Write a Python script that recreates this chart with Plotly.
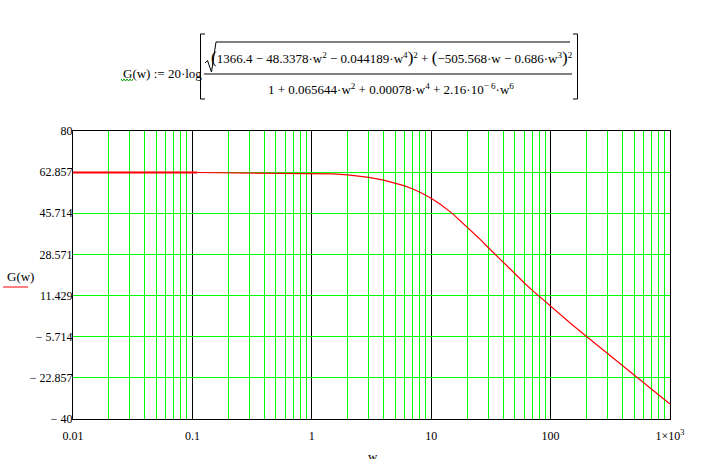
import plotly.graph_objects as go

# ---- data ----
w_vals = [0.01, 0.11, 1, 1.2, 1.5, 2, 2.5, 3, 4, 5, 6, 7, 8, 10, 12, 15, 20, 25, 30,
          40, 50, 60, 70, 100, 150, 200, 300, 500, 700, 1000]
g_vals = [62.71, 62.71, 62.44, 62.32, 62.12, 61.70, 61.22, 60.70, 59.56, 58.36, 57.12,
          55.85, 54.56, 51.96, 49.39, 45.68, 40.14, 35.44, 31.47, 25.22, 20.50, 16.77,
          13.71, 6.90, -0.51, -5.64, -12.79, -21.71, -27.57, -33.78]

y_tick_vals = [80, 62.857, 45.714, 28.571, 11.429, -5.714, -22.857, -40]
y_tick_text = ["80", "62.857", "45.714", "28.571", "11.429",
               "\u2212 5.714", "\u2212 22.857", "\u2212 40"]
x_tick_vals = [0.01, 0.1, 1, 10, 100, 1000]
x_tick_text = ["0.01", "0.1", "1", "10", "100", "1\u00d710<sup>3</sup>"]
x_minor_vals = [k * 10.0 ** e for e in range(-2, 3) for k in range(2, 10)]

W, H = 703, 459
L, R, T, B = 73, 670, 131, 419


def PX(x):
    return (x - L) / (R - L)


def PY(y):
    return (B - y) / (B - T)


SERIF = "Liberation Serif"

fig = go.Figure()
fig.add_trace(go.Scatter(x=w_vals[:2], y=g_vals[:2], mode="lines",
                         line=dict(color="#ff0000", width=2), hoverinfo="skip"))
fig.add_trace(go.Scatter(x=w_vals[1:], y=g_vals[1:], mode="lines",
                         line=dict(color="#ff0000", width=1.2), hoverinfo="skip"))

fig.update_layout(
    width=W, height=H,
    margin=dict(l=L, r=W - R, t=T, b=H - B, pad=0),
    paper_bgcolor="white", plot_bgcolor="white",
    showlegend=False,
    font=dict(family=SERIF, size=12, color="black"),
    xaxis=dict(type="log", range=[-2, 3], tickvals=x_tick_vals, ticktext=x_tick_text,
               showgrid=True, gridcolor="black", gridwidth=1,
               minor=dict(tickvals=x_minor_vals, showgrid=True, gridcolor="#00ff00",
                          gridwidth=1, ticks=""),
               showline=True, linecolor="black", linewidth=1, mirror=True,
               ticks="", ticklen=0, ticklabelstandoff=6, zeroline=False,
               tickfont=dict(size=12, family=SERIF)),
    yaxis=dict(range=[-40, 80], tickvals=y_tick_vals, ticktext=y_tick_text,
               showgrid=True, gridcolor="#00ff00", gridwidth=1,
               showline=True, linecolor="black", linewidth=1, mirror=True,
               ticks="", ticklen=0, ticklabelstandoff=-3, zeroline=False,
               tickfont=dict(size=12, family=SERIF)),
)

ann = []
FS = 13
# formula pieces
ann.append(dict(text="G(w) := 20\u00b7log", x=PX(121), y=PY(74), xanchor="left",
                yanchor="middle", showarrow=False, font=dict(size=FS)))
big = '<span style="font-size:17px">%s</span>'
num = (big % "(" + "1366.4 \u2212 48.3378\u00b7w<sup>2</sup> \u2212 0.044189\u00b7w<sup>4</sup>"
       + big % ")" + "<sup>2</sup> + " + big % "(" + "\u2212505.568\u00b7w \u2212 0.686\u00b7w<sup>3</sup>"
       + big % ")" + "<sup>2</sup>")
ann.append(dict(text=num, x=PX(392), y=PY(58), xanchor="center", yanchor="middle",
                showarrow=False, font=dict(size=FS)))
den = ("1 + 0.065644\u00b7w<sup>2</sup> + 0.00078\u00b7w<sup>4</sup> + "
       "2.16\u00b710<sup>\u2212 6</sup>\u00b7w<sup>6</sup>")
ann.append(dict(text=den, x=PX(391), y=PY(89), xanchor="center", yanchor="middle",
                showarrow=False, font=dict(size=FS)))
# axis labels
ann.append(dict(text="G(w)", x=PX(5), y=PY(276), xanchor="left", yanchor="middle",
                showarrow=False, font=dict(size=13)))
ann.append(dict(text="w", x=PX(373), y=PY(447), xanchor="center", yanchor="top",
                showarrow=False, font=dict(size=13)))
for a in ann:
    a["xref"] = "paper"
    a["yref"] = "paper"
fig.update_layout(annotations=ann)


def path(pts):
    return "M " + " L ".join("%f,%f" % (PX(x), PY(y)) for x, y in pts)


shapes = [
    # left bracket
    dict(path=path([(205, 34), (200.5, 34), (200.5, 99), (205, 99)]), line=dict(color="black", width=1)),
    # right bracket
    dict(path=path([(573, 34), (577.5, 34), (577.5, 99), (573, 99)]), line=dict(color="black", width=1)),
    # square root sign
    dict(path=path([(205, 63), (207.5, 60.5), (211.5, 72), (216, 42), (570, 42)]),
         line=dict(color="black", width=1)),
    # fraction bar
    dict(path=path([(204, 74), (572, 74)]), line=dict(color="black", width=1)),
    # legend underline
    dict(path=path([(3, 287), (28, 287)]), line=dict(color="#ff0000", width=1)),
    # wavy underline under G
    dict(path=path([(121, 79), (122.5, 81), (124, 79), (125.5, 81), (127, 79),
                    (128.5, 81), (130, 79), (131.5, 81), (133, 79)]),
         line=dict(color="#00a000", width=1)),
]
for s in shapes:
    s["type"] = "path"
    s["xref"] = "paper"
    s["yref"] = "paper"
    s["layer"] = "above"
fig.update_layout(shapes=shapes)

fig.write_html("out.html", config={"displayModeBar": False},
               post_script="document.body.style.margin='0';document.body.style.padding='0';")
